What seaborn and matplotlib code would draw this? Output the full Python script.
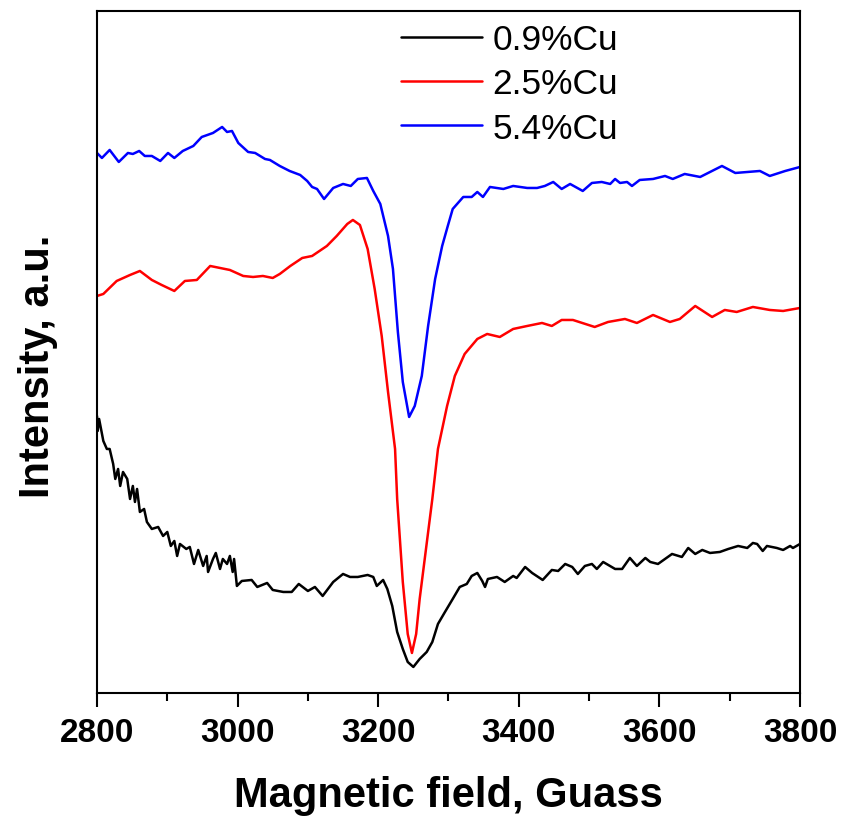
import numpy as np
import pandas as pd
import matplotlib
matplotlib.use("Agg")
import matplotlib.pyplot as plt
from matplotlib.ticker import MultipleLocator
import seaborn as sns

labels = ["0.9%Cu", "2.5%Cu", "5.4%Cu"]
colors = ["#000000", "#ff0000", "#0000ff"]

field_09 = [2800, 2801, 2803, 2809, 2814, 2818, 2823, 2826, 2830, 2833, 2837, 2843, 2847, 2851, 2854, 2857,
            2861, 2867, 2871, 2878, 2887, 2894, 2900, 2905, 2910, 2914, 2918, 2927, 2932, 2938, 2944, 2951,
            2956, 2958, 2965, 2969, 2975, 2979, 2985, 2989, 2993, 2995, 2999, 3006, 3020, 3028, 3042, 3050,
            3065, 3077, 3087, 3100, 3110, 3121, 3136, 3150, 3160, 3171, 3185, 3193, 3198, 3207, 3213, 3220,
            3227, 3235, 3242, 3250, 3259, 3269, 3277, 3285, 3295, 3306, 3316, 3326, 3333, 3341, 3348, 3352,
            3356, 3369, 3380, 3392, 3397, 3409, 3419, 3434, 3447, 3456, 3466, 3476, 3484, 3494, 3504, 3511,
            3520, 3537, 3547, 3558, 3568, 3580, 3587, 3598, 3618, 3632, 3641, 3651, 3661, 3672, 3686, 3698,
            3712, 3725, 3733, 3739, 3747, 3753, 3767, 3776, 3786, 3790, 3800]
int_09 = [2.83, 2.68, 2.80, 2.58, 2.50, 2.50, 2.35, 2.20, 2.30, 2.13, 2.27, 2.20, 2.00, 2.13, 1.97, 2.10,
          1.87, 1.90, 1.77, 1.70, 1.72, 1.63, 1.67, 1.53, 1.58, 1.43, 1.55, 1.50, 1.52, 1.35, 1.49, 1.33,
          1.43, 1.27, 1.40, 1.46, 1.30, 1.40, 1.35, 1.43, 1.27, 1.40, 1.13, 1.18, 1.19, 1.12, 1.16, 1.09,
          1.07, 1.07, 1.15, 1.08, 1.12, 1.03, 1.17, 1.25, 1.22, 1.22, 1.24, 1.22, 1.13, 1.19, 1.10, 0.93,
          0.67, 0.50, 0.37, 0.32, 0.40, 0.47, 0.57, 0.75, 0.87, 1.00, 1.12, 1.15, 1.23, 1.26, 1.18, 1.12,
          1.20, 1.22, 1.17, 1.23, 1.21, 1.32, 1.26, 1.19, 1.29, 1.28, 1.35, 1.32, 1.25, 1.33, 1.35, 1.30,
          1.37, 1.30, 1.30, 1.41, 1.33, 1.41, 1.37, 1.35, 1.45, 1.42, 1.51, 1.45, 1.49, 1.46, 1.47, 1.50,
          1.53, 1.51, 1.56, 1.55, 1.48, 1.53, 1.51, 1.49, 1.53, 1.51, 1.55]

field_25 = [2800, 2809, 2828, 2847, 2861, 2878, 2892, 2910, 2925, 2942, 2961, 2975, 2989, 3008, 3022, 3036,
            3050, 3060, 3075, 3092, 3106, 3127, 3141, 3156, 3164, 3174, 3185, 3195, 3205, 3214, 3224, 3227,
            3235, 3242, 3248, 3254, 3259, 3268, 3277, 3285, 3298, 3309, 3323, 3341, 3355, 3373, 3392, 3412,
            3433, 3447, 3461, 3477, 3508, 3527, 3551, 3568, 3591, 3615, 3629, 3651, 3675, 3693, 3710, 3733,
            3757, 3776, 3800]
int_25 = [4.03, 4.05, 4.18, 4.24, 4.28, 4.19, 4.14, 4.08, 4.18, 4.19, 4.33, 4.31, 4.29, 4.23, 4.22, 4.23,
          4.21, 4.25, 4.33, 4.41, 4.43, 4.53, 4.63, 4.75, 4.79, 4.74, 4.50, 4.10, 3.63, 3.07, 2.50, 2.00,
          1.17, 0.65, 0.46, 0.65, 1.00, 1.50, 2.00, 2.50, 2.93, 3.23, 3.45, 3.60, 3.65, 3.62, 3.70, 3.73,
          3.76, 3.73, 3.79, 3.79, 3.72, 3.77, 3.80, 3.76, 3.84, 3.77, 3.80, 3.93, 3.82, 3.89, 3.87, 3.92,
          3.89, 3.88, 3.91]

field_54 = [2800, 2807, 2818, 2831, 2844, 2851, 2860, 2868, 2878, 2890, 2901, 2910, 2922, 2937, 2949, 2965,
            2978, 2985, 2992, 3001, 3015, 3025, 3039, 3046, 3060, 3074, 3089, 3099, 3106, 3113, 3123, 3136,
            3150, 3161, 3171, 3184, 3193, 3203, 3214, 3221, 3228, 3235, 3244, 3252, 3262, 3271, 3281, 3291,
            3299, 3306, 3321, 3333, 3341, 3349, 3359, 3378, 3392, 3412, 3426, 3437, 3449, 3461, 3473, 3491,
            3504, 3518, 3530, 3537, 3544, 3554, 3561, 3572, 3591, 3608, 3619, 3636, 3658, 3689, 3708, 3743,
            3757, 3779, 3800]
int_54 = [5.46, 5.41, 5.49, 5.37, 5.46, 5.45, 5.48, 5.43, 5.43, 5.38, 5.46, 5.41, 5.48, 5.53, 5.62, 5.66,
          5.72, 5.67, 5.68, 5.56, 5.47, 5.46, 5.40, 5.39, 5.33, 5.28, 5.24, 5.18, 5.12, 5.10, 5.00, 5.11,
          5.15, 5.13, 5.20, 5.21, 5.08, 4.95, 4.63, 4.30, 3.67, 3.17, 2.82, 2.93, 3.23, 3.73, 4.20, 4.53,
          4.73, 4.90, 5.02, 5.02, 5.07, 5.02, 5.12, 5.10, 5.13, 5.11, 5.11, 5.13, 5.17, 5.10, 5.15, 5.08,
          5.16, 5.17, 5.15, 5.20, 5.16, 5.17, 5.13, 5.19, 5.20, 5.23, 5.20, 5.25, 5.22, 5.33, 5.26, 5.28,
          5.23, 5.28, 5.32]

xticks = [2800, 3000, 3200, 3400, 3600, 3800]

df = pd.concat([
    pd.DataFrame({"field": field_09, "intensity": int_09, "sample": labels[0]}),
    pd.DataFrame({"field": field_25, "intensity": int_25, "sample": labels[1]}),
    pd.DataFrame({"field": field_54, "intensity": int_54, "sample": labels[2]}),
], ignore_index=True)

sns.set_style("ticks")
plt.rcParams["font.family"] = ["Liberation Sans", "DejaVu Sans"]
plt.rcParams["text.color"] = "black"
plt.rcParams["axes.labelcolor"] = "black"
plt.rcParams["xtick.color"] = "black"
plt.rcParams["ytick.color"] = "black"

fig = plt.figure(figsize=(8.42, 8.20), dpi=100)
ax = fig.add_axes([0.1152, 0.1537, 0.8349, 0.8317])

sns.lineplot(data=df, x="field", y="intensity", hue="sample", hue_order=labels,
             palette=dict(zip(labels, colors)), estimator=None, sort=False,
             linewidth=1.8, ax=ax)

ax.set_xlim(2800, 3800)
ax.set_ylim(0.06, 6.88)
ax.set_xticks(xticks)
ax.xaxis.set_minor_locator(MultipleLocator(100))
ax.set_yticks([])
ax.tick_params(axis="x", which="major", length=10, width=1.5, direction="out",
               labelsize=24, pad=7, colors="black")
ax.tick_params(axis="x", which="minor", length=6, width=1.5, direction="out", colors="black")
for lab in ax.get_xticklabels():
    lab.set_fontweight("bold")
for s in ax.spines.values():
    s.set_linewidth(1.5)
    s.set_color("black")

ax.set_xlabel("Magnetic field, Guass", fontsize=30, fontweight="bold", labelpad=20, color="black")
ax.set_ylabel("Intensity, a.u.", fontsize=30, fontweight="bold", labelpad=28, color="black")
ax.yaxis.label.set_y(0.48)

leg = ax.legend(loc="upper left", bbox_to_anchor=(0.412, 1.003), frameon=False,
                fontsize=25.5, handlelength=2.3, handletextpad=0.28, labelspacing=0.32,
                borderaxespad=0)
for line in leg.get_lines():
    line.set_linewidth(1.8)
for t in leg.get_texts():
    t.set_color("black")

fig.savefig("out.png", dpi=100)
